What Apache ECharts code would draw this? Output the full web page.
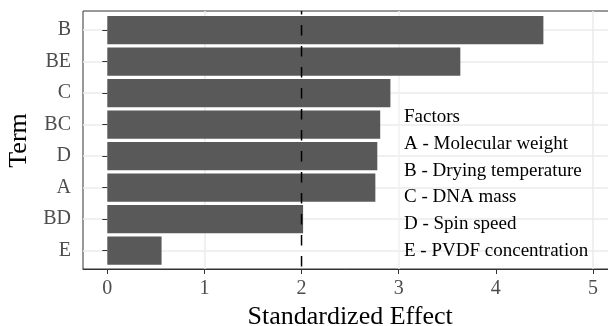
<!DOCTYPE html>
<html>
<head>
<meta charset="utf-8">
<script src="https://cdn.jsdelivr.net/npm/echarts@6/dist/echarts.min.js"></script>
<style>
html, body { margin: 0; padding: 0; background: #ffffff; }
#chart { width: 608px; height: 326px; }
</style>
</head>
<body>
<div id="chart"></div>
<script>
// ---- data ----
const categories = ['B', 'BE', 'C', 'BC', 'D', 'A', 'BD', 'E'];
const effects = [4.49, 3.635, 2.915, 2.81, 2.78, 2.76, 2.016, 0.559];
const xTicks = [0, 1, 2, 3, 4, 5];
const criticalValue = 2.0;
const factorTitle = 'Factors';
const factorLabels = [
  'A - Molecular weight',
  'B - Drying temperature',
  'C - DNA mass',
  'D - Spin speed',
  'E - PVDF concentration'
];
const xTitle = 'Standardized Effect';
const yTitle = 'Term';

// ---- chart ----
const FONT = 'Liberation Serif';
const chart = echarts.init(document.getElementById('chart'), null, { renderer: 'canvas' });

const gridLeft = 83;
const gridRight = -9.2;

const option = {
  backgroundColor: '#ffffff',
  animation: false,
  title: {
    text: [factorTitle].concat(factorLabels).join('\n'),
    left: 404,
    top: 104,
    padding: 0,
    textStyle: {
      fontFamily: FONT,
      fontSize: 19,
      fontWeight: 'normal',
      color: '#000000',
      lineHeight: 26.7
    }
  },
  grid: [
    {
      left: gridLeft, right: gridRight, top: 11, bottom: 57,
      outerBoundsMode: 'none', containLabel: false,
      show: true, borderColor: '#333333', borderWidth: 1, backgroundColor: '#ffffff'
    },
    {
      left: gridLeft, right: gridRight, top: 30.2, bottom: 75.3,
      outerBoundsMode: 'none', containLabel: false
    }
  ],
  xAxis: [
    {
      gridIndex: 0,
      type: 'value',
      min: -0.25,
      max: 5.25,
      interval: 0.25,
      name: xTitle,
      nameLocation: 'middle',
      nameGap: 32,
      nameTextStyle: { fontFamily: FONT, fontSize: 26, color: '#000000' },
      axisLine: { show: true, lineStyle: { color: '#333333', width: 1 } },
      axisTick: { show: true, customValues: xTicks, length: 5, lineStyle: { color: '#333333', width: 1 } },
      axisLabel: {
        customValues: xTicks,
        margin: 10,
        fontFamily: FONT, fontSize: 20, color: '#4D4D4D'
      },
      splitLine: {
        show: true,
        lineStyle: {
          color: ['rgba(0,0,0,0)', '#EBEBEB', 'rgba(0,0,0,0)', '#F0F0F0'],
          width: [1.5]
        }
      }
    },
    {
      gridIndex: 1,
      type: 'value',
      min: -0.25,
      max: 5.25,
      interval: 0.25,
      show: false
    }
  ],
  yAxis: [
    {
      gridIndex: 0,
      type: 'value',
      min: 0,
      max: 1,
      show: false
    },
    {
      gridIndex: 1,
      type: 'category',
      data: categories,
      inverse: true,
      boundaryGap: false,
      name: yTitle,
      nameLocation: 'middle',
      nameGap: 47,
      nameTextStyle: { fontFamily: FONT, fontSize: 26, color: '#000000' },
      axisLine: { show: false },
      axisTick: { show: true, alignWithLabel: true, length: 5, lineStyle: { color: '#333333', width: 1 } },
      axisLabel: { margin: 12, fontFamily: FONT, fontSize: 20, color: '#4D4D4D' },
      splitLine: { show: true, lineStyle: { color: '#EBEBEB', width: 1.5 } }
    }
  ],
  series: [
    {
      type: 'bar',
      xAxisIndex: 1,
      yAxisIndex: 1,
      data: effects,
      barWidth: 28.3,
      clip: false,
      itemStyle: { color: '#595959' },
      silent: true
    },
    {
      type: 'line',
      xAxisIndex: 0,
      yAxisIndex: 0,
      data: [[criticalValue, 1], [criticalValue, 0]],
      symbol: 'none',
      z: 5,
      lineStyle: { color: '#000000', width: 1.5, type: [10.5, 10.5], dashOffset: 7 },
      silent: true
    }
  ]
};

chart.setOption(option);
</script>
</body>
</html>
